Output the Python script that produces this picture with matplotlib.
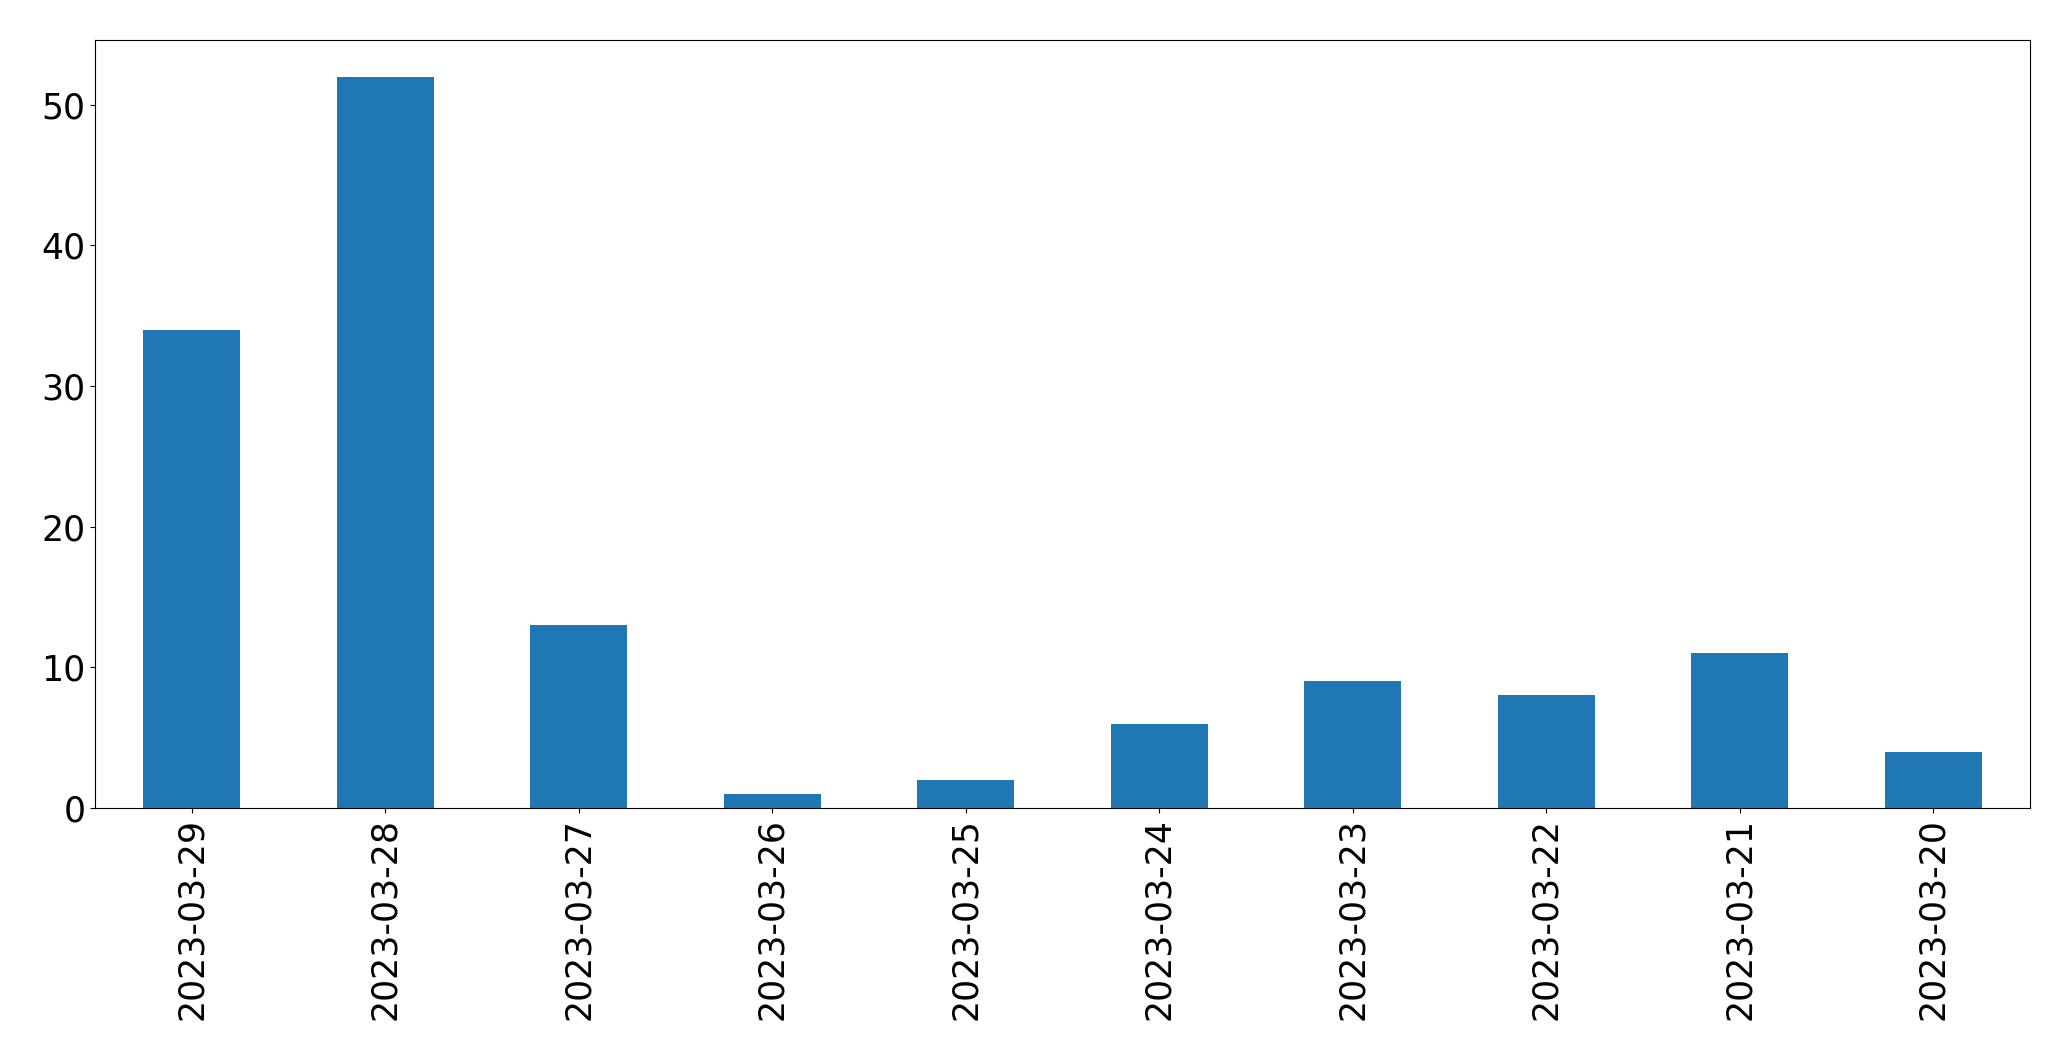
import matplotlib
matplotlib.use("Agg")
import matplotlib.pyplot as plt

dates = ["2023-03-29", "2023-03-28", "2023-03-27", "2023-03-26", "2023-03-25",
         "2023-03-24", "2023-03-23", "2023-03-22", "2023-03-21", "2023-03-20"]
counts = [34, 52, 13, 1, 2, 6, 9, 8, 11, 4]

fig = plt.figure(figsize=(20.71, 10.61), dpi=100)
ax = fig.add_axes([95/2071, 1 - 808/1061, (2030-95)/2071, (808-40)/1061])
x = list(range(len(dates)))
ax.bar(x, counts, width=0.5, color="#1f77b4")
ax.set_xticks(x)
ax.set_xticklabels(dates, rotation=90)
ax.set_xlim(-0.5, len(dates) - 0.5)
ax.set_ylim(0, max(counts) * 1.05)
ax.tick_params(labelsize=25)
fig.savefig("out.png", dpi=100)
